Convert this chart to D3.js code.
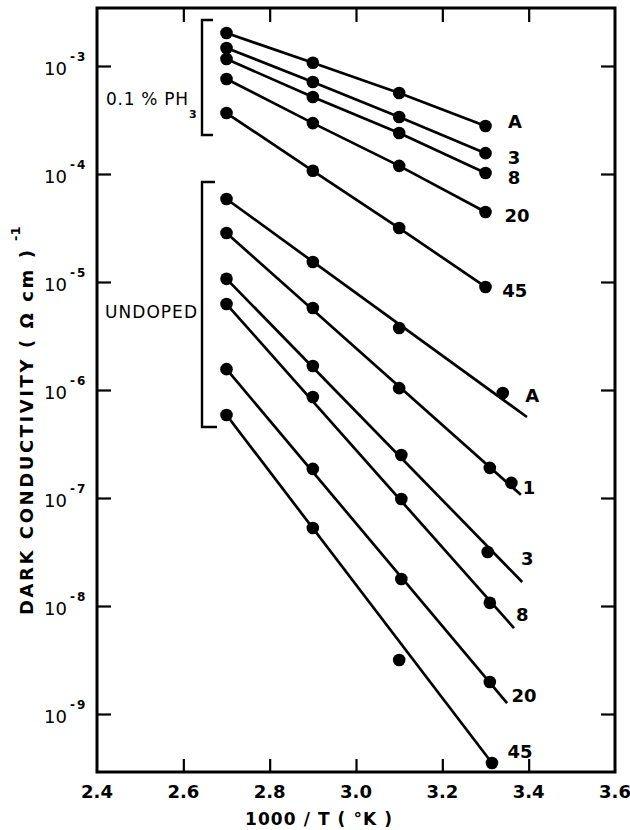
<!DOCTYPE html>
<meta charset="utf-8">
<script src="https://d3js.org/d3.v7.min.js"></script>
<style>
  body { margin: 0; background: #fff; }
  text { font-family: "DejaVu Sans", sans-serif; fill: #000; }
</style>
<div id="chart"></div>
<script>

// ---- data ----
// 0.1% PH3 doped samples, all measured at the same four temperatures
var dopedNames = ["A", "3", "8", "20", "45"];
var dopedX = [2.7, 2.9, 3.1, 3.3];
var dopedY = [
  [2.02e-3, 1.07e-3, 5.62e-4, 2.78e-4],
  [1.47e-3, 7.11e-4, 3.37e-4, 1.56e-4],
  [1.16e-3, 5.17e-4, 2.40e-4, 1.02e-4],
  [7.58e-4, 2.96e-4, 1.19e-4, 4.45e-5],
  [3.67e-4, 1.07e-4, 3.16e-5, 9.0e-6]
];
var dopedLabelAt = [[3.368, 3.03e-4], [3.366, 1.41e-4], [3.366, 9.2e-5], [3.373, 4.17e-5], [3.368, 8.4e-6]];

// undoped samples
var undopedNames = ["A", "1", "3", "8", "20", "45"];
var undopedX = [
  [2.7, 2.9, 3.1, 3.34],
  [2.7, 2.9, 3.1, 3.31, 3.36],
  [2.7, 2.9, 3.105, 3.305],
  [2.7, 2.9, 3.105, 3.31],
  [2.7, 2.9, 3.105, 3.31],
  [2.7, 2.9, 3.1, 3.315]
];
var undopedY = [
  [5.87e-5, 1.53e-5, 3.75e-6, 9.38e-7],
  [2.84e-5, 5.74e-6, 1.04e-6, 1.90e-7, 1.38e-7],
  [1.07e-5, 1.67e-6, 2.50e-7, 3.16e-8],
  [6.25e-6, 8.61e-7, 9.8e-8, 1.07e-8],
  [1.56e-6, 1.86e-7, 1.78e-8, 1.98e-9],
  [5.87e-7, 5.27e-8, 3.16e-9, 3.52e-10]
];
// end of the fitted straight line (starts at the first point)
var undopedFitEnd = [[3.396, 5.62e-7], [3.382, 1.07e-7], [3.385, 1.67e-8], [3.366, 6.25e-9], [3.35, 1.26e-9], [3.315, 3.52e-10]];
var undopedLabelAt = [[3.408, 8.8e-7], [3.401, 1.26e-7], [3.397, 2.78e-8], [3.385, 8.3e-9], [3.389, 1.47e-9], [3.380, 4.45e-10]];

var xTicks = [2.4, 2.6, 2.8, 3.0, 3.2, 3.4, 3.6];
var yExps = [-3, -4, -5, -6, -7, -8, -9];

// ---- layout ----
var margin = {top: 8, right: 15, bottom: 58, left: 97},
    width = 630 - margin.left - margin.right,
    height = 830 - margin.top - margin.bottom;

var svg = d3.select("#chart").append("svg")
    .attr("width", 630).attr("height", 830);
var g = svg.append("g")
    .attr("transform", "translate(" + margin.left + "," + margin.top + ")");

var x = d3.scaleLinear().domain([2.4, 3.6]).range([0, width]);
var y = d3.scaleLog().domain([Math.pow(10, -9.537), Math.pow(10, -2.463)]).range([height, 0]);

var yVals = yExps.map(function(e) { return Math.pow(10, e); });

// inward ticks on all four sides
function noDomain(sel) { sel.select(".domain").remove(); sel.selectAll(".tick line").attr("stroke-width", 2.2); }
g.append("g").call(d3.axisLeft(y).tickValues(yVals).tickSize(-14).tickFormat("")).call(noDomain);
g.append("g").attr("transform", "translate(" + width + ",0)")
  .call(d3.axisRight(y).tickValues(yVals).tickSize(-14).tickFormat("")).call(noDomain);
g.append("g").call(d3.axisTop(x).tickValues(xTicks.slice(1, -1)).tickSize(-14).tickFormat("")).call(noDomain);
g.append("g").attr("transform", "translate(0," + height + ")")
  .call(d3.axisBottom(x).tickValues(xTicks.slice(1, -1)).tickSize(-13).tickFormat("")).call(noDomain);

g.append("rect").attr("width", width).attr("height", height)
  .attr("fill", "none").attr("stroke", "#000").attr("stroke-width", 3);

// x tick labels
g.selectAll(".xl").data(xTicks).enter().append("text")
  .attr("x", function(d) { return x(d); })
  .attr("y", height + 26)
  .attr("text-anchor", "middle")
  .style("font-size", "18px").style("font-weight", "bold")
  .text(function(d) { return d.toFixed(1); });

// y tick labels 10^-n
var yl = g.selectAll(".yl").data(yExps).enter().append("g")
  .attr("transform", function(d) { return "translate(-30," + y(Math.pow(10, d)) + ")"; });
yl.append("text").attr("x", 0).attr("y", 9).attr("text-anchor", "end")
  .style("font-size", "18px").text("10");
yl.append("text").attr("x", 3).attr("y", -5)
  .style("font-size", "12px").style("font-weight", "bold").style("letter-spacing", "2px")
  .text(function(d) { return "-" + (-d); });

// axis titles
svg.append("text").attr("x", 245).attr("y", 825)
  .attr("textLength", 147).attr("lengthAdjust", "spacing")
  .style("font-size", "17px").style("font-weight", "bold")
  .text("1000 / T ( °K )");

var yt = svg.append("g").attr("transform", "translate(33,615) rotate(-90)");
yt.append("text").attr("x", 0).attr("y", 0)
  .attr("textLength", 365).attr("lengthAdjust", "spacing")
  .style("font-size", "18px").style("font-weight", "bold")
  .text("DARK CONDUCTIVITY ( Ω cm )");
yt.append("text").attr("x", 374).attr("y", -13)
  .style("font-size", "13px").style("font-weight", "bold")
  .text("-1");

// group brackets and their names
var br = svg.append("g").attr("fill", "none").attr("stroke", "#000").attr("stroke-width", 2.4);
br.append("path").attr("d", "M213,20H202V135H213");
br.append("path").attr("d", "M215,182H202V427H217");

svg.append("text").attr("x", 106).attr("y", 105)
  .attr("textLength", 82).attr("lengthAdjust", "spacing")
  .style("font-size", "17px").text("0.1 % PH");
svg.append("text").attr("x", 189).attr("y", 118)
  .style("font-size", "11px").style("font-weight", "bold").text("3");
svg.append("text").attr("x", 105).attr("y", 318)
  .attr("textLength", 92).attr("lengthAdjust", "spacing")
  .style("font-size", "17px").text("UNDOPED");

// ---- series ----
var line = d3.line().x(function(d) { return x(d[0]); }).y(function(d) { return y(d[1]); });

var doped = dopedNames.map(function(n, i) {
  return {name: n, pts: dopedX.map(function(v, j) { return [v, dopedY[i][j]]; }), label: dopedLabelAt[i]};
});
var undoped = undopedNames.map(function(n, i) {
  var pts = undopedX[i].map(function(v, j) { return [v, undopedY[i][j]]; });
  return {name: n, pts: pts, fit: [pts[0], undopedFitEnd[i]], label: undopedLabelAt[i]};
});

g.selectAll(".dl").data(doped).enter().append("path")
  .attr("fill", "none").attr("stroke", "#000").attr("stroke-width", 2.7)
  .attr("d", function(d) { return line(d.pts); });
g.selectAll(".ul").data(undoped).enter().append("path")
  .attr("fill", "none").attr("stroke", "#000").attr("stroke-width", 2.7)
  .attr("d", function(d) { return line(d.fit); });

var all = doped.concat(undoped);
all.forEach(function(s) {
  g.selectAll(null).data(s.pts).enter().append("circle")
    .attr("cx", function(d) { return x(d[0]); })
    .attr("cy", function(d) { return y(d[1]); })
    .attr("r", 6.3).attr("fill", "#000");
});

g.selectAll(".lab").data(all).enter().append("text")
  .attr("x", function(d) { return x(d.label[0]); })
  .attr("y", function(d) { return y(d.label[1]); })
  .attr("dy", "0.36em")
  .attr("text-anchor", "middle")
  .style("font-size", "18px").style("font-weight", "bold")
  .text(function(d) { return d.name; });

</script>
